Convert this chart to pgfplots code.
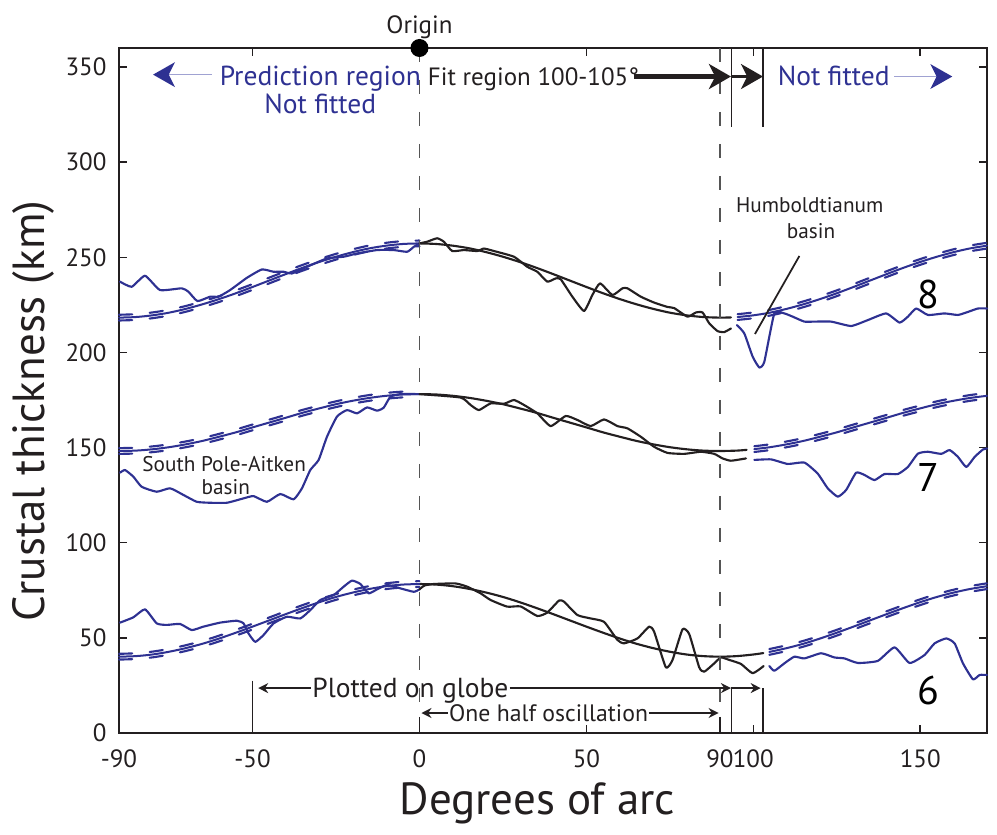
\documentclass[border=0pt]{standalone}
\usepackage{pgfplots}
\pgfplotsset{compat=1.18}
\usepackage{pgfplotstable}
\usepackage{fontspec}
\setmainfont{PT Sans}
\usetikzlibrary{arrows.meta}
\definecolor{pblue}{RGB}{46,49,146}
\definecolor{lblue}{RGB}{160,162,210}
\definecolor{pblack}{RGB}{35,31,32}
\definecolor{dgray}{RGB}{85,85,85}

% Predicted (fitted) curves, extended outside the fit region
\pgfplotstableread{
x y
-90 218.3
-85 218.6
-80 219.5
-75 220.9
-70 222.9
-65 225.3
-60 228.05
-55 231.1
-50 234.4
-45 237.8
-40 241.2
-35 244.5
-30 247.55
-25 250.3
-20 252.7
-15 254.7
-10 256.1
-5 257.0
0 257.3
}\predEightL
\pgfplotstableread{
x y
95.3 218.6
100 219.5
105 220.9
110 222.9
115 225.3
120 228.05
125 231.1
130 234.4
135 237.8
140 241.2
145 244.5
150 247.55
155 250.3
160 252.7
165 254.7
170 256.1
}\predEightR
\pgfplotstableread{
x y
-90 148.2
-85 148.4
-80 149.1
-75 150.2
-70 151.7
-65 153.5
-60 155.7
-55 158.0
-50 160.6
-45 163.15
-40 165.7
-35 168.3
-30 170.6
-25 172.8
-20 174.6
-15 176.1
-10 177.2
-5 177.9
0 178.1
}\predSevenL
\pgfplotstableread{
x y
100.3 149.2
105 150.2
110 151.7
115 153.5
120 155.7
125 158.0
130 160.6
135 163.15
140 165.7
145 168.3
150 170.6
155 172.8
160 174.6
165 176.1
170 177.2
}\predSevenR
\pgfplotstableread{
x y
-90 40.1
-85 40.4
-80 41.25
-75 42.7
-70 44.6
-65 46.9
-60 49.65
-55 52.7
-50 55.9
-45 59.2
-40 62.5
-35 65.7
-30 68.75
-25 71.5
-20 73.8
-15 75.7
-10 77.15
-5 78.0
0 78.3
}\predSixL
\pgfplotstableread{
x y
104.8 42.6
110 44.6
115 46.9
120 49.65
125 52.7
130 55.9
135 59.2
140 62.5
145 65.7
150 68.75
155 71.5
160 73.8
165 75.7
170 77.15
}\predSixR

\newcommand{\pred}[1]{%
  \addplot[pblue, line width=0.8pt, smooth] table {#1};
  \addplot[pblue, line width=0.85pt, smooth, dash pattern=on 5.3pt off 7pt, transform canvas={yshift=1.15pt}] table {#1};
  \addplot[pblue, line width=0.85pt, smooth, dash pattern=on 5.3pt off 7pt, transform canvas={yshift=-1.15pt}] table {#1};
}

\begin{document}
\begin{tikzpicture}
\begin{axis}[
  scale only axis, width=347.2pt, height=274pt,
  xmin=-90, xmax=170, ymin=0, ymax=360,
  xtick={-90,-50,0,50,90,100,150},
  ytick={0,50,100,150,200,250,300,350},
  tick align=inside, major tick length=3.2pt,
  axis line style={line width=0.8pt, draw=pblack},
  tick style={line width=0.6pt, draw=pblack},
  ticklabel style={font=\fontsize{10}{12}\selectfont, text=pblack},
  /pgf/number format/assume math mode=true,
  xticklabel style={yshift=-3pt},
  yticklabel style={xshift=-1.5pt},
  clip=false,
  every axis plot/.append style={line cap=round, line join=round},
]
% fit regions (black)
\addplot[pblack, line width=0.85pt, smooth] coordinates {(0,257.3)(5,257.0)(10,256.1)(15,254.7)(20,252.7)(25,250.3)(30,247.55)(35,244.5)(40,241.2)(45,237.8)(50,234.4)(55,231.1)(60,228.05)(65,225.3)(70,222.9)(75,220.9)(80,219.5)(85,218.6)(90,218.3)(93.3,218.4)};
\addplot[pblack, line width=0.85pt, smooth] coordinates {(0,178.1)(5,177.9)(10,177.2)(15,176.1)(20,174.6)(25,172.8)(30,170.6)(35,168.3)(40,165.7)(45,163.15)(50,160.6)(55,158.0)(60,155.7)(65,153.5)(70,151.7)(75,150.2)(80,149.1)(85,148.4)(90,148.2)(95,148.4)(98,148.8)};
\addplot[pblack, line width=0.85pt, smooth] coordinates {(0,78.3)(5,78.0)(10,77.15)(15,75.7)(20,73.8)(25,71.5)(30,68.75)(35,65.7)(40,62.5)(45,59.2)(50,55.9)(55,52.7)(60,49.65)(65,46.9)(70,44.6)(75,42.7)(80,41.25)(85,40.4)(90,40.1)(95,40.4)(100,41.25)(103,42.0)};
% predictions (blue, with uncertainty)
\pred{\predEightL}
\pred{\predEightR}
\pred{\predSevenL}
\pred{\predSevenR}
\pred{\predSixL}
\pred{\predSixR}
% measured profiles
\addplot[pblue, line width=0.85pt, smooth, tension=0.3] coordinates {(-89.7,237.2)(-86.2,234.5)(-82.2,240.3)(-77.7,232.8)(-71.2,233.7)(-69.2,231.9)(-66.5,227.0)(-62.7,229.3)(-60.2,229.3)(-56.7,232.8)(-51.7,239.2)(-47.2,243.6)(-43.7,242.4)(-40.7,242.4)(-38.2,241.5)(-33.7,245.0)(-27.7,249.4)(-22.7,250.3)(-18.7,252.0)(-12.7,253.8)(-7.7,253.8)(-3.7,252.9)(-1.7,255.5)(0,257.3)};
\addplot[pblack, line width=0.85pt, smooth, tension=0.3] coordinates {(0,257.3)(2.3,258.2)(5.3,260.0)(7.3,258.2)(9.8,253.3)(13.3,253.8)(17.3,253.3)(19.3,254.6)(22.3,253.3)(28.3,250.3)(32.3,245.0)(35.3,242.4)(38.3,237.2)(40.8,238.9)(42.3,238.5)(45.8,229.3)(49.3,221.8)(51.8,230.2)(54.1,236.3)(57.8,230.2)(60.8,233.7)(62.3,233.7)(66.3,229.3)(70.3,226.2)(74.3,223.9)(76.3,223.3)(80.3,218.8)(82.8,221.0)(84.8,221.0)(86.8,215.3)(89.3,211.2)(91.3,210.7)(93.3,212.6)};
\addplot[pblue, line width=0.85pt, smooth, tension=0.3] coordinates {(95.1,214.4)(97.3,210.0)(99.8,197.8)(101.8,192.1)(103.3,195.1)(106.3,220.5)(109.3,220.5)(111.8,218.8)(115.3,216.2)(118.3,216.2)(123.3,216.2)(129.3,213.9)(134.3,217.0)(139.8,220.5)(143.8,215.7)(146.3,218.8)(148.8,223.1)(152.3,219.7)(157.3,220.5)(161.3,219.7)(164.3,221.3)(167.3,223.1)(170,223.1)};
\addplot[pblue, line width=0.85pt, smooth, tension=0.3] coordinates {(-89.7,136.8)(-88.2,138.2)(-85.7,134.7)(-83.2,129.4)(-78.7,126.8)(-74.7,128.6)(-70.7,125.1)(-66.7,121.5)(-62.7,121.0)(-57.7,121.0)(-52.7,123.3)(-49.7,124.5)(-45.7,121.5)(-41.7,125.6)(-37.7,122.8)(-35.2,128.6)(-32.7,138.2)(-30.2,143.5)(-27.7,155.7)(-24.7,166.3)(-21.7,169.7)(-18.7,168.0)(-15.7,171.1)(-12.7,169.4)(-10.7,171.0)(-8.7,176.7)(-5.7,178.1)(0,178.1)};
\addplot[pblack, line width=0.85pt, smooth, tension=0.3] coordinates {(0,178.1)(12.3,176.3)(15.3,172.4)(17.8,169.7)(21.3,173.2)(25.3,173.0)(28.3,175.0)(31.3,172.4)(35.3,168.0)(39.3,161.3)(43.8,166.6)(47.3,164.5)(51.3,161.3)(55.3,164.8)(59.3,161.3)(62.3,160.1)(66.3,155.7)(70.3,150.4)(74.3,147.2)(79.3,146.7)(84.3,147.8)(88.3,146.7)(90.8,144.3)(93.3,143.1)(97.8,144.3)};
\addplot[pblue, line width=0.85pt, smooth, tension=0.3] coordinates {(100.3,143.5)(105.3,143.8)(110.3,141.4)(115.3,142.1)(119.3,136.3)(122.3,128.6)(125.3,124.2)(127.8,127.7)(130.8,136.8)(133.3,135.6)(136.3,132.9)(139.3,136.1)(143.3,136.1)(146.3,139.8)(149.3,146.8)(152.3,147.8)(156.3,146.7)(158.8,148.7)(161.3,145.1)(163.8,139.8)(166.3,145.1)(168.8,149.0)(170,149.5)};
\addplot[pblue, line width=0.85pt, smooth, tension=0.3] coordinates {(-89.7,58.0)(-85.7,60.8)(-82.2,65.0)(-78.7,57.6)(-75.7,56.8)(-71.7,57.3)(-68.2,54.1)(-64.7,55.9)(-59.7,58.0)(-54.7,59.0)(-52.7,57.6)(-51.2,52.3)(-49.2,47.9)(-46.7,51.5)(-43.7,57.6)(-39.7,61.1)(-35.7,60.2)(-32.7,64.6)(-29.7,69.9)(-25.7,72.5)(-22.7,76.9)(-20.2,80.1)(-17.7,78.3)(-15.2,73.4)(-12.7,75.5)(-9.7,77.8)(-5.7,76.0)(-1.7,74.2)(0,75.5)};
\addplot[pblack, line width=0.85pt, smooth, tension=0.3] coordinates {(0,75.5)(1.5,77.5)(4.3,78.3)(10.8,78.6)(14.3,76.9)(18.3,73.4)(21.3,69.9)(26.3,66.4)(30.3,66.5)(35.3,61.5)(38.3,63.3)(41.8,69.6)(43.3,69.0)(47.3,62.0)(51.3,60.2)(55.3,58.4)(59.3,48.9)(61.3,47.1)(65.3,49.7)(68.8,55.9)(70.3,53.2)(73.8,34.5)(75.8,38.4)(78.8,54.5)(80.8,52.0)(83.8,34.5)(85.3,32.2)(88.3,36.6)(90.3,39.7)(92.8,38.4)(96.3,36.3)(99.8,31.4)(103.1,35.2)};
\addplot[pblue, line width=0.85pt, smooth, tension=0.3] coordinates {(104.8,35.2)(106.3,32.7)(109.3,36.6)(112.3,40.1)(115.3,39.2)(120.3,41.9)(124.3,39.7)(127.3,39.2)(131.3,36.8)(137.3,37.9)(142.3,45.0)(146.8,36.8)(151.3,41.0)(154.3,47.1)(157.8,49.7)(160.3,47.1)(162.8,36.6)(165.8,28.2)(167.8,30.5)(170,30.5)};

% vertical reference lines
\draw[dgray, line width=0.6pt, dash pattern=on 5.6pt off 7.2pt] (0,360) -- (0,12);
\draw[dgray, line width=0.6pt, dash pattern=on 5.6pt off 7.2pt] (90,360) -- (90,12);
\draw[pblack, line width=0.6pt] (0,8.5) -- (0,0);
\draw[pblack, line width=0.6pt] (90,8.5) -- (90,0);
\draw[pblack, line width=0.7pt] (93.5,360) -- (93.5,318.6);
\draw[pblack, line width=0.7pt] (103,360) -- (103,318.6);
\draw[pblack, line width=0.7pt] (93.5,23.6) -- (93.5,0);
\draw[pblack, line width=0.7pt] (103,23.6) -- (103,0);
\draw[pblack, line width=0.7pt] (-50,27.5) -- (-50,0);

% origin
\fill[black] (0,360) circle[radius=3.6pt];
\node[anchor=base, font=\fontsize{10}{12}\selectfont, text=pblack] at (0,367.8) {Origin};

% top annotations
\node[anchor=base west, font=\fontsize{10}{12}\selectfont, text=pblack, inner sep=0pt] at (2.4,340.5) {Fit region 100-105°};
\draw[pblack, line width=1.7pt, -{Stealth[length=8.8pt,width=10pt,inset=2.5pt]}] (64.2,345) -- (93.3,345);
\draw[pblack, line width=1.2pt, -{Stealth[length=8.8pt,width=10pt,inset=2.5pt]}] (93.3,345) -- (102.9,345);
\node[anchor=base, font=\fontsize{11}{13}\selectfont, text=pblue, inner sep=0pt] at (-29.7,340.5) {Prediction region};
\node[anchor=base, font=\fontsize{11}{13}\selectfont, text=pblue, inner sep=0pt] at (-29.7,325.8) {Not fitted};
\draw[lblue, line width=0.4pt] (-62.1,346) -- (-76,346);
\fill[pblue] (-79.8,346) -- ++(8.8pt,5pt) -- ++(-2.5pt,-5pt) -- ++(2.5pt,-5pt) -- cycle;
\node[anchor=base, font=\fontsize{11}{13}\selectfont, text=pblue, inner sep=0pt] at (124.1,340.5) {Not fitted};
\draw[lblue, line width=0.4pt] (142.2,345) -- (156,345);
\fill[pblue] (159.6,345) -- ++(-8.8pt,5pt) -- ++(2.5pt,-5pt) -- ++(-2.5pt,-5pt) -- cycle;

% bottom annotations
\node[anchor=base, font=\fontsize{11}{13}\selectfont, text=pblack, inner sep=0pt] at (-2.7,18.9) {Plotted on globe};
\draw[pblack, line width=0.6pt, -{Stealth[length=4pt,width=4pt]}] (-32.5,23.6) -- (-48.3,23.6);
\draw[pblack, line width=0.6pt, -{Stealth[length=4pt,width=4pt]}] (27,23.6) -- (93.3,23.6);
\draw[pblack, line width=0.6pt, -{Stealth[length=4pt,width=4pt]}] (93.3,23.6) -- (102.2,23.6);
\node[anchor=base, font=\fontsize{9.5}{11}\selectfont, text=pblack, inner sep=0pt] at (38.7,5.8) {One half oscillation};
\draw[pblack, line width=0.6pt, -{Stealth[length=4pt,width=4pt]}] (8.4,10.5) -- (0.6,10.5);
\draw[pblack, line width=0.6pt, -{Stealth[length=4pt,width=4pt]}] (68.7,10.5) -- (89.6,10.5);

% basin labels
\node[anchor=base, font=\fontsize{8.5}{10}\selectfont, text=pblack, inner sep=0pt] at (116.9,273.4) {Humboldtianum};
\node[anchor=base, font=\fontsize{8.5}{10}\selectfont, text=pblack, inner sep=0pt] at (117.3,259.9) {basin};
\draw[pblack, line width=0.7pt] (113.8,250.7) -- (100.5,209.7);
\node[anchor=base, font=\fontsize{8.5}{10}\selectfont, text=pblack, inner sep=0pt] at (-58.5,137.3) {South Pole-Aitken};
\node[anchor=base, font=\fontsize{8.5}{10}\selectfont, text=pblack, inner sep=0pt] at (-58,125.1) {basin};

% profile numbers
\node[anchor=base, font=\fontsize{16}{18}\selectfont, text=black, inner sep=0pt] at (152.3,223.1) {8};
\node[anchor=base, font=\fontsize{16}{18}\selectfont, text=black, inner sep=0pt] at (152.4,126.8) {7};
\node[anchor=base, font=\fontsize{16}{18}\selectfont, text=black, inner sep=0pt] at (152.4,15.2) {6};

% axis labels
\node[anchor=base, font=\fontsize{18}{20}\selectfont, text=pblack, inner sep=0pt] at ([yshift=-32.8pt]rel axis cs:0.482,0) {Degrees of arc};
\node[anchor=base, rotate=90, font=\fontsize{18}{20}\selectfont, text=pblack, inner sep=0pt] at ([xshift=-29.6pt]rel axis cs:0,0.47) {Crustal thickness (km)};
\end{axis}
\pgfresetboundingbox
\path (-47.6pt,-40.8pt) rectangle (351.2pt,293.2pt);
\end{tikzpicture}
\end{document}
